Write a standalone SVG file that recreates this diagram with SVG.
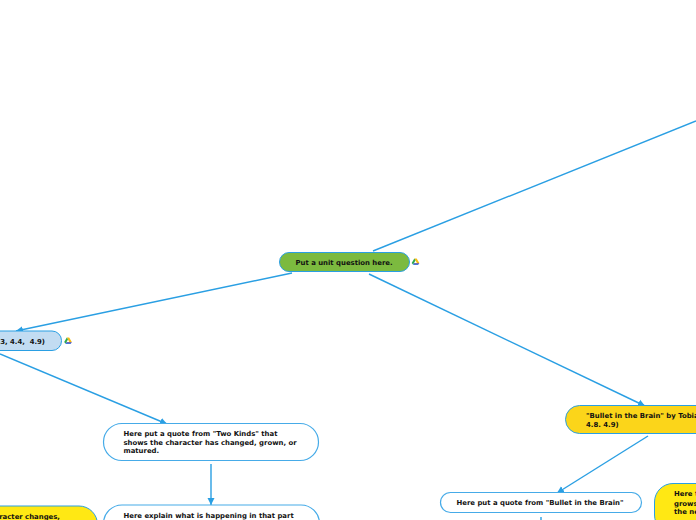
<svg xmlns="http://www.w3.org/2000/svg" width="696" height="520" viewBox="0 0 696 520">
<defs>
<marker id="a" markerUnits="userSpaceOnUse" markerWidth="10" markerHeight="8" refX="7" refY="4" orient="auto"><path d="M0 0.500L7 4L0 7.500Z" fill="#2a9fe3"/></marker>
<g id="drive"><path d="M-1.2-3.6H1.2L0-1.4Z M1.2-3.6L3.8 1H1.4L-0.1-1.6Z" fill="#f7bb12"/><path d="M-1.2-3.6L0-1.4L-2.4 2.8L-3.8 1Z" fill="#2da84f"/><path d="M-1.5 1H3.8L2.6 2.9H-2.5Z" fill="#3b7de8"/><path d="M-1.5 1H3.8L3 2.3L-1 2.3Z" fill="#e8483a" opacity=".35"/></g>
</defs>
<style>
text{font-family:"DejaVu Sans",Verdana,sans-serif;font-weight:700;font-size:6.9px;fill:#111;white-space:pre}
.n{stroke:#2a9fe3;stroke-width:1}
.w{fill:#fff;stroke:#46abe8;stroke-width:1.2}
.c{fill:none;stroke:#2a9fe3;stroke-width:1.4}
.e{text-anchor:end}
</style>
<rect width="696" height="520" fill="#fff"/>
<g id="connectors">
<path class="c" d="M373 251L696 121"/>
<path class="c" d="M292 273L16 331" marker-end="url(#a)"/>
<path class="c" d="M369 274L645 406" marker-end="url(#a)"/>
<path class="c" d="M0 354L167 424" marker-end="url(#a)"/>
<path class="c" d="M211 464V505" marker-end="url(#a)"/>
<path class="c" d="M648 436L557 493" marker-end="url(#a)"/>
<path class="c" d="M541 517V520"/>
</g>
<g id="root"><rect class="n" x="279.500" y="252.500" width="130" height="19" rx="9.500" fill="#7cba3f"/><text x="295.500" y="264.800">Put a unit question here.</text><use href="#drive" x="415.500" y="262"/></g>
<g id="two-kinds"><rect class="n" x="-100" y="331" width="161.500" height="19.500" rx="9.500" fill="#c2dcf2"/><text class="e" x="45" y="343.500">3, 4.4,  4.9)</text><use href="#drive" x="68" y="341"/></g>
<g id="quote-two-kinds"><rect class="w" x="103.500" y="423.500" width="215" height="37" rx="18.500"/><text x="123.500" y="436">Here put a quote from "Two Kinds" that</text><text x="123.500" y="445">shows the character has changed, grown, or</text><text x="123.500" y="453">matured.</text></g>
<g id="explain-two-kinds"><rect class="w" x="103.500" y="505" width="216" height="40" rx="18.500"/><text x="123.500" y="518">Here explain what is happening in that part</text></g>
<g id="yellow-left"><rect class="n" x="-100" y="506" width="197.500" height="40" rx="18.500" fill="#ffe814"/><text class="e" x="60" y="519">Character changes,</text></g>
<g id="bullet"><rect class="n" x="565.500" y="405.500" width="200" height="28" rx="14" fill="#fbd51a"/><text x="586" y="417.500">"Bullet in the Brain" by Tobias Wolff</text><text x="586" y="427">4.8. 4.9)</text></g>
<g id="quote-bullet"><rect class="w" x="440.500" y="492.500" width="201" height="20" rx="10"/><text x="456.500" y="505">Here put a quote from "Bullet in the Brain"</text></g>
<g id="yellow-right"><rect class="n" x="654.500" y="483.500" width="100" height="50" rx="18.500" fill="#ffe814"/><text x="674" y="496">Here the</text><text x="674" y="505.500">grows</text><text x="674" y="513.500">the next</text></g>
</svg>
